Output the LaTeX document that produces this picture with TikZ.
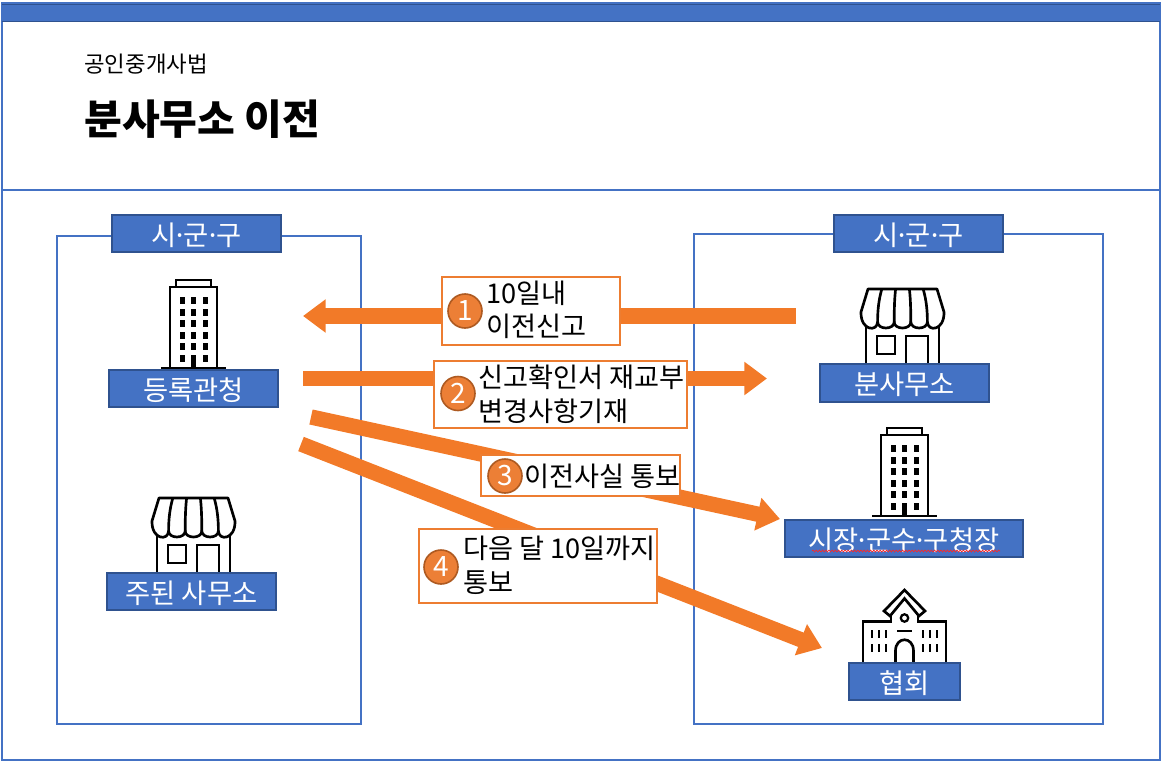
\documentclass[tikz,border=0pt]{standalone}
\usepackage{fontspec}
\setmainfont{Noto Sans CJK KR}
\usetikzlibrary{arrows.meta,decorations.pathmorphing}
\definecolor{frameblue}{HTML}{4472C4}
\definecolor{edgeblue}{HTML}{2F528F}
\definecolor{flow}{HTML}{F27A28}
\definecolor{boxorange}{HTML}{ED7D31}
\definecolor{circfill}{HTML}{EC7F36}
\definecolor{circedge}{HTML}{AE5A21}
\newcommand{\tightdot}{\kern-3pt·\kern-3pt}
\newcommand{\lowertext}[1]{\raisebox{-1.2pt}[\height][\depth]{#1}}
\tikzset{
  frameline/.style={draw=frameblue,line width=1.2pt},
  bluelabel/.style={draw=edgeblue,line width=1.5pt,fill=frameblue,text=white,inner sep=0pt,font=\fontsize{20.5}{24}\selectfont},
  callout/.style={draw=boxorange,line width=1.5pt,fill=white,inner sep=0pt},
  numdot/.style={circle,draw=circedge,line width=1.2pt,fill=circfill,text=white,minimum size=25.5pt,inner sep=0pt,font=\fontsize{21}{25}\selectfont},
  calltext/.style={anchor=west,inner sep=0pt,align=left,font=\fontsize{20.4}{25.2}\selectfont},
  flowarrow/.style={draw=flow,line width=11.5pt,-{Triangle[length=17pt,width=24pt]}},
  icon/.style={line width=2pt,draw=black,fill=white},
  pics/officebldg/.style={code={
    \draw[icon] (176,287) rectangle (211,280);
    \draw[icon] (170,368) rectangle (217,287);
    \draw[line width=2pt] (161,368) -- (226,368);
    \foreach \wy in {300,312,323.5,335,346.5,358}{
      \fill (179.5,\wy-3.5) rectangle (184.5,\wy+3.5);
      \fill (203,\wy-3.5) rectangle (208,\wy+3.5);
    }
    \foreach \wy in {300,312,323.5,335,346.5}{
      \fill (191,\wy-3.5) rectangle (196,\wy+3.5);
    }
    \fill (191,355) rectangle (196,368);
  }},
  pics/shopicon/.style={code={
    \draw[icon] (157,530) -- (157,575) -- (230,575) -- (230,530);
    \draw[icon] (168,545) rectangle (186,563);
    \draw[icon] (197,575) -- (197,545) -- (219,545) -- (219,575);
    \draw[icon,line join=round] (159,498) -- (228,498) -- (235,521)
      .. controls (235.5,540) and (218.6,541) .. (218.4,531)
      .. controls (218.4,539) and (201.8,539) .. (201.8,531)
      .. controls (201.8,539) and (185.2,539) .. (185.2,531)
      .. controls (185.2,539) and (168.6,539) .. (168.6,531)
      .. controls (168.4,541) and (151.5,540) .. (152,521) -- cycle;
    \draw[line width=2pt] (172.8,498) .. controls (170,508) and (168.6,518) .. (168.6,531);
    \draw[line width=2pt] (186.6,498) .. controls (185.5,508) and (185.2,518) .. (185.2,531);
    \draw[line width=2pt] (200.4,498) .. controls (201.5,508) and (201.8,518) .. (201.8,531);
    \draw[line width=2pt] (214.2,498) .. controls (217,508) and (218.4,518) .. (218.4,531);
  }},
  pics/schoolicon/.style={code={
    \draw[icon] (863,663) -- (863,621.5) -- (891,621.5) -- (891,608) -- (918,608) -- (918,621.5) -- (946,621.5) -- (946,663);
    \fill[white] (892.5,606) rectangle (916.5,624);
    \draw[icon,fill=white,line join=miter] (904.5,590) -- (925,611) -- (919,616) -- (904.5,598.5) -- (890,616) -- (884,611) -- cycle;
    \draw[line width=1.7pt] (904.5,618) circle[radius=3.7];
    \draw[line width=1.7pt] (897,631) -- (912,631);
    \draw[icon] (895.5,663) -- (895.5,651) .. controls (895.5,636) and (913.5,636) .. (913.5,651) -- (913.5,663);
    \foreach \wx in {872,879,886,923,930,937}{
      \draw[line width=1.7pt] (\wx,630) -- (\wx,638);
      \draw[line width=1.7pt] (\wx,644) -- (\wx,652);
    }
  }}
}
\begin{document}
\begin{tikzpicture}[x=.75pt,y=-.75pt]
\useasboundingbox (0,0) rectangle (1165,764);
% frames
\draw[frameline] (2,2.5) rectangle (1160,760);
\fill[frameblue] (2,3) rectangle (1160,21);
\draw[edgeblue,line width=.6pt] (2,4) -- (1160,4);
\draw[edgeblue,line width=.6pt] (2,21.5) -- (1160,21.5);
\draw[frameline] (2,190) -- (1160,190);
\node[anchor=west,inner sep=0pt,font=\fontsize{16.8}{20}\selectfont] (law) at (84,64.5) {공인중개사법};
\node[anchor=west,inner sep=0pt,font=\fontsize{30.8}{36}\bfseries\selectfont] (title) at (84,119) {분사무소 이전};
\draw[frameline] (57,236) rectangle (361,724);
\draw[frameline] (694,234) rectangle (1103,724);
% icons
\pic at (0,0) {officebldg};
\pic at (0,0) {shopicon};
\pic at (709,-209) {shopicon};
\pic at (711,148) {officebldg};
\pic at (0,0) {schoolicon};
% blue labels
\node[bluelabel,minimum width=169*.75pt,minimum height=37*.75pt] (regionL) at (196.5,233.5) {\lowertext{시\tightdot 군\tightdot 구}};
\node[bluelabel,minimum width=169*.75pt,minimum height=37*.75pt] (regionR) at (918.5,233.5) {\lowertext{시\tightdot 군\tightdot 구}};
\node[bluelabel,minimum width=169*.75pt,minimum height=37*.75pt] (registry) at (193.5,388.5) {\lowertext{등록관청}};
\node[bluelabel,minimum width=169*.75pt,minimum height=37*.75pt] (mainoffice) at (191.5,591.5) {\lowertext{주된 사무소}};
\node[bluelabel,minimum width=169*.75pt,minimum height=38*.75pt] (branch) at (904.5,383) {\lowertext{분사무소}};
\node[bluelabel,minimum width=238*.75pt,minimum height=37*.75pt] (mayor) at (904,538.5) {\lowertext{시장\tightdot 군수\tightdot 구청장}};
\node[bluelabel,minimum width=111*.75pt,minimum height=37*.75pt] (assoc) at (904.5,681.5) {\lowertext{협회}};
\coordinate (wavea) at (812,551);
\coordinate (waveb) at (1000,551);
\draw[red!85!white,line width=.5pt,decorate,decoration={snake,amplitude=.7pt,segment length=2.4pt}] (wavea) -- (waveb);
% connector ends
\coordinate (a1s) at (796,316);
\coordinate (a1e) at (303,316);
\coordinate (a2s) at (303,378.5);
\coordinate (a2e) at (767,378.5);
\coordinate (a3s) at (311,417);
\coordinate (a3e) at (780,519);
\coordinate (a4s) at (301,444);
\coordinate (a4e) at (822,648);
\draw[flowarrow] (a1s) -- (a1e);
\draw[flowarrow] (a2s) -- (a2e);
\draw[flowarrow] (a3s) -- (a3e);
\draw[flowarrow] (a4s) -- (a4e);
% callouts
\node[callout,minimum width=178*.75pt,minimum height=68*.75pt] (c1) at (531,311) {};
\node[numdot] (n1) at (465,311) {1};
\node[calltext] (t1) at (486,310) {10일내\\이전신고};
\node[callout,minimum width=253*.75pt,minimum height=67*.75pt] (c2) at (560.5,394.5) {};
\node[numdot] (n2) at (458,393.5) {2};
\node[calltext] (t2) at (478,394.5) {신고확인서 재교부\\변경사항기재};
\node[callout,minimum width=199*.75pt,minimum height=41*.75pt] (c3) at (580.5,475.5) {};
\node[numdot] (n3) at (505,476) {3};
\node[calltext] (t3) at (524,476.5) {이전사실 통보};
\node[callout,minimum width=238*.75pt,minimum height=74*.75pt] (c4) at (538,566) {};
\node[numdot] (n4) at (441,567) {4};
\node[calltext] (t4) at (463,565) {다음 달 10일까지\\통보};
\end{tikzpicture}
\end{document}
